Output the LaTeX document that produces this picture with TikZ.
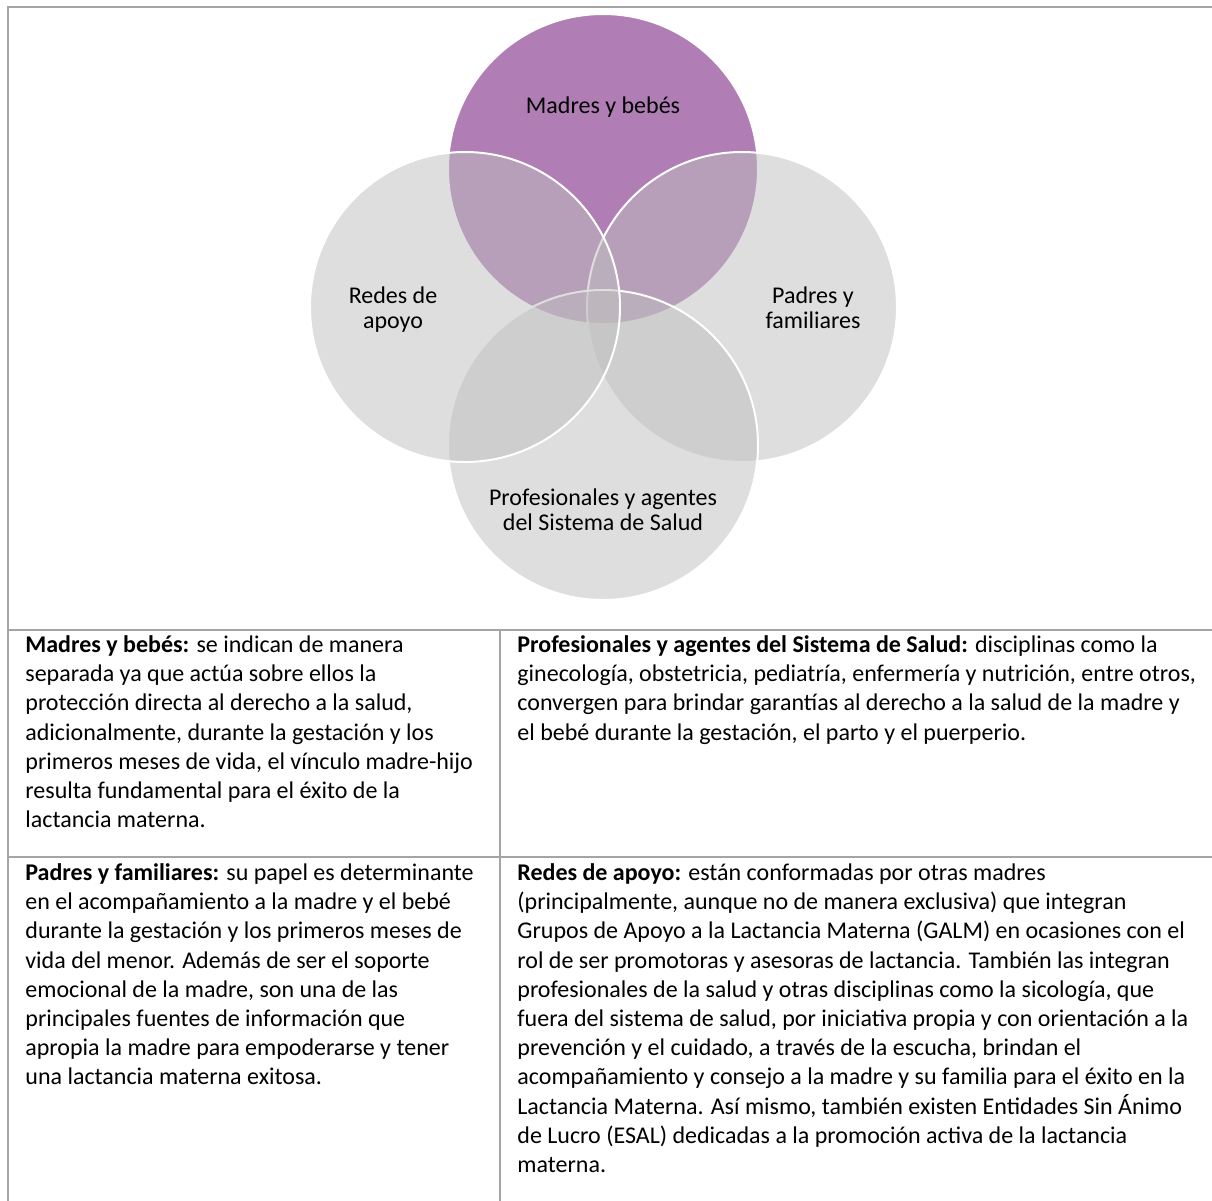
\documentclass[tikz,border=0pt]{standalone}
\usepackage{fontspec}
\setmainfont{Carlito}
\definecolor{bordergray}{HTML}{A5A5A5}
\definecolor{vennpurple}{HTML}{B07EB4}
\definecolor{venngray}{HTML}{BFBFBF}
\newcommand\mytightlines{\lineskiplimit-\maxdimen\relax}
\newcommand\myvennfont{\fontsize{12pt}{12.4pt}\selectfont\mytightlines}
\newcommand\mycellfont{\fontsize{12pt}{14.6pt}\selectfont\mytightlines}
\tikzset{
  gridline/.style={draw=bordergray, line width=0.75pt},
  venntop/.style={fill=vennpurple, draw=white, line width=1pt},
  venn/.style={fill=venngray, fill opacity=0.5, draw=white, draw opacity=1, line width=1pt},
  vennlabel/.style={font=\myvennfont, align=center, inner sep=0pt, anchor=north, text=black},
  celltext/.style={font=\mycellfont, align=left, inner sep=0pt, anchor=north west, text=black}
}
\begin{document}
\begin{tikzpicture}[x=0.5pt, y=-0.5pt]
\useasboundingbox (0,0) rectangle (1212,1201);
\fill[white] (0,0) rectangle (1212,1201);
% Venn circles
\coordinate (ctop) at (603,169);
\coordinate (cright) at (742,307);
\coordinate (cbottom) at (603,445);
\coordinate (cleft) at (465,307);
\path[venntop] (ctop) circle[radius=155];
\path[venn] (cright) circle[radius=155];
\path[venn] (cbottom) circle[radius=155];
\path[venn] (cleft) circle[radius=155];
% Venn labels
\node[vennlabel] (lmb) at (603,91) {\rule{0pt}{11pt}Madres y bebés};
\node[vennlabel] (lra) at (393,281) {\rule{0pt}{11pt}Redes de\\apoyo};
\node[vennlabel] (lpf) at (813,281) {\rule{0pt}{11pt}Padres y\\familiares};
\node[vennlabel] (lps) at (603,483) {\rule{0pt}{11pt}Profesionales y agentes\\del Sistema de Salud};
% table grid
\coordinate (tl) at (8,7);
\coordinate (tr) at (1212,7);
\coordinate (bl) at (8,1201);
\coordinate (r1l) at (8,630);
\coordinate (r1r) at (1212,630);
\coordinate (r2l) at (8,857);
\coordinate (r2r) at (1212,857);
\coordinate (vt) at (500,630);
\coordinate (vb) at (500,1201);
\draw[gridline] (bl) -- (tl) -- (tr);
\draw[gridline] (r1l) -- (r1r);
\draw[gridline] (r2l) -- (r2r);
\draw[gridline] (vt) -- (vb);
% cell texts
\node[celltext] (tmb) at (25,630) {\rule{0pt}{11pt}\textbf{Madres y bebés:} se indican de manera\\
separada ya que actúa sobre ellos la\\
protección directa al derecho a la salud,\\
adicionalmente, durante la gestación y los\\
primeros meses de vida, el vínculo madre-hijo\\
resulta fundamental para el éxito de la\\
lactancia materna.};
\node[celltext] (tps) at (517,630) {\rule{0pt}{11pt}\textbf{Profesionales y agentes del Sistema de Salud:} disciplinas como la\\
ginecología, obstetricia, pediatría, enfermería y nutrición, entre otros,\\
convergen para brindar garantías al derecho a la salud de la madre y\\
el bebé durante la gestación, el parto y el puerperio.};
\node[celltext] (tpf) at (25,858) {\rule{0pt}{11pt}\textbf{Padres y familiares:} su papel es determinante\\
en el acompañamiento a la madre y el bebé\\
durante la gestación y los primeros meses de\\
vida del menor. Además de ser el soporte\\
emocional de la madre, son una de las\\
principales fuentes de información que\\
apropia la madre para empoderarse y tener\\
una lactancia materna exitosa.};
\node[celltext] (tra) at (517,858) {\rule{0pt}{11pt}\textbf{Redes de apoyo:} están conformadas por otras madres\\
(principalmente, aunque no de manera exclusiva) que integran\\
Grupos de Apoyo a la Lactancia Materna (GALM) en ocasiones con el\\
rol de ser promotoras y asesoras de lactancia. También las integran\\
profesionales de la salud y otras disciplinas como la sicología, que\\
fuera del sistema de salud, por iniciativa propia y con orientación a la\\
prevención y el cuidado, a través de la escucha, brindan el\\
acompañamiento y consejo a la madre y su familia para el éxito en la\\
Lactancia Materna. Así mismo, también existen Entidades Sin Ánimo\\
de Lucro (ESAL) dedicadas a la promoción activa de la lactancia\\
materna.};
\end{tikzpicture}
\end{document}
